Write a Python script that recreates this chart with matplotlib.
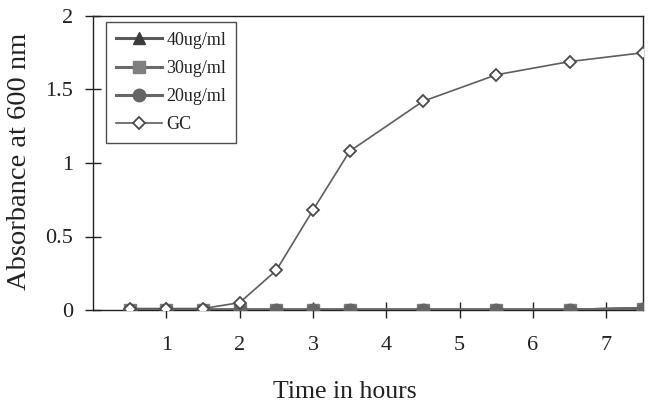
import matplotlib
matplotlib.use("Agg")
import matplotlib.pyplot as plt

# time points (hours) and absorbance readings
hours = [0.5, 1, 1.5, 2, 2.5, 3, 3.5, 4.5, 5.5, 6.5, 7.5]
abs_40 = [0, 0, 0, 0, 0, 0, 0, 0, 0, 0, 0.01]
abs_30 = [0, 0, 0, 0, 0, 0, 0, 0, 0, 0, 0.01]
abs_20 = [0, 0, 0, 0, 0, 0, 0, 0, 0, 0, 0.01]
abs_gc = [0.01, 0.01, 0.01, 0.05, 0.27, 0.68, 1.08, 1.42, 1.60, 1.69, 1.75]

x_ticks = [1, 2, 3, 4, 5, 6, 7]
y_ticks = [0, 0.5, 1, 1.5, 2]

plt.rcParams['font.family'] = ['Liberation Serif', 'DejaVu Serif']

fig = plt.figure(figsize=(6.49, 4.05), dpi=100)
ax = fig.add_axes([93/649, 1 - 310/405, 550/649, 294/405])

ax.plot(hours, abs_40, color='#5a5a5a', lw=2.2, marker='^', ms=9,
        mfc='#3c3c3c', mec='#3c3c3c', label='40ug/ml', zorder=3)
ax.plot(hours, abs_30, color='#6a6a6a', lw=2.2, marker='s', ms=9,
        mfc='#7f7f7f', mec='#7f7f7f', label='30ug/ml', zorder=4)
ax.plot(hours, abs_20, color='#666666', lw=2.2, marker='o', ms=9,
        mfc='#656565', mec='#656565', label='20ug/ml', zorder=5)
ax.plot(hours, abs_gc, color='#5e5e5e', lw=1.2, marker='D', ms=6,
        mfc='white', mec='#4a4a4a', mew=1.3, label='GC', zorder=6)

ax.set_xlim(0, 7.5)
ax.set_ylim(0, 2)
ax.set_xticks(x_ticks)
ax.set_xticklabels([str(t) for t in x_ticks])
ax.set_yticks(y_ticks)
ax.set_yticklabels(['0', '0.5', '1', '1.5', '2'])
ax.tick_params(axis='both', direction='inout', length=11, width=1,
               labelsize=16, colors='#222222')
ax.tick_params(axis='x', pad=13)
ax.tick_params(axis='y', pad=9)
for s in ax.spines.values():
    s.set_linewidth(1)
    s.set_color('#222222')

ax.set_xlabel('Time in hours', fontsize=18.5, color='#222222')
ax.xaxis.set_label_coords(0.458, -0.2415)
ax.set_ylabel('Absorbance at 600 nm', fontsize=20.5, color='#222222')
ax.yaxis.set_label_coords(-0.11, 0.507)

leg = ax.legend(loc='upper left', bbox_to_anchor=(0.0236, 0.98), fontsize=13,
                frameon=True, fancybox=False, edgecolor='#222222',
                handlelength=2.55, handletextpad=0.25, labelspacing=0.62,
                borderpad=0.55, borderaxespad=0)
leg.get_frame().set_linewidth(1)
for t in leg.get_texts():
    t.set_color('#222222')

plt.savefig('out.png', dpi=100)
